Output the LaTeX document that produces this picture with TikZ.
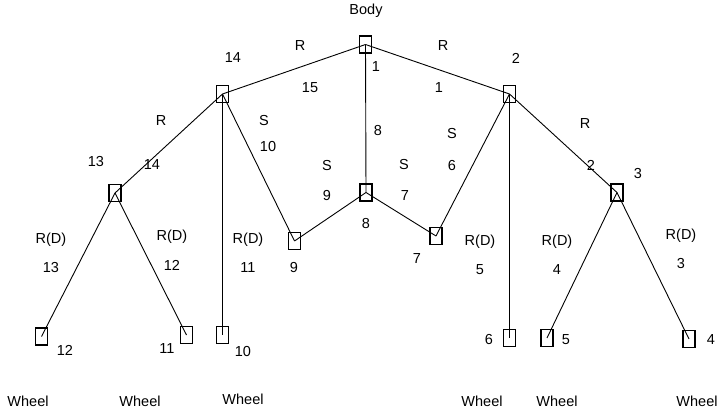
\documentclass[tikz,border=0pt]{standalone}
\usepackage{fontspec}
\setmainfont{Liberation Sans}
\begin{document}
\begin{tikzpicture}[x=1pt,y=-1pt,
  jbox/.style={draw=black,line width=1.4pt,minimum width=12pt,minimum height=17pt,inner sep=0pt},
  link/.style={line width=0.9pt},
  lab/.style={font=\fontsize{14.5}{16}\selectfont,inner sep=0pt}]
\useasboundingbox (0,0) rectangle (726,414);
% joints
\coordinate (c1) at (365.5,44.5);
\coordinate (c14) at (222.5,94);
\coordinate (c2) at (509.5,94);
\coordinate (c13) at (115,193);
\coordinate (c3) at (617,192.5);
\coordinate (c8) at (366,192.5);
\coordinate (c9) at (294.5,241);
\coordinate (c7) at (436,236);
\coordinate (c12) at (41.5,336.5);
\coordinate (c11) at (186.5,335);
\coordinate (c10) at (222.5,335);
\coordinate (c6) at (509.5,338);
\coordinate (c5) at (547,338);
\coordinate (c4) at (689,339);
% connectors
\foreach \a/\b in {1/14,1/2,1/8,14/13,14/10,14/9,8/9,8/7,2/7,2/6,2/3,13/12,13/11,3/5,3/4}
  \draw[link] (c\a) -- (c\b);
% boxes
\foreach \n in {1,14,2,13,3,8,9,7,12,11,10,6,5,4}
  \node[jbox] (b\n) at (c\n) {};
% labels
\node[lab] (tbody) at (366,11) {Body};
\node[lab] at (376,67) {1};
\node[lab] at (233,58) {14};
\node[lab] at (300,46) {R};
\node[lab] at (443,46) {R};
\node[lab] at (516,58) {2};
\node[lab] at (310,88) {15};
\node[lab] at (439,88) {1};
\node[lab] at (161,121) {R};
\node[lab] at (264,121) {S};
\node[lab] at (268,147) {10};
\node[lab] at (378,131) {8};
\node[lab] at (452,134) {S};
\node[lab] at (452,166) {6};
\node[lab] at (585,124) {R};
\node[lab] at (591,165) {2};
\node[lab] at (96,162) {13};
\node[lab] at (152,165) {14};
\node[lab] at (327,166) {S};
\node[lab] at (404,165) {S};
\node[lab] at (327,196) {9};
\node[lab] at (405,196) {7};
\node[lab] at (638,174) {3};
\node[lab] at (366,224) {8};
\node[lab] at (51,240) {R(D)};
\node[lab] at (51,268) {13};
\node[lab] at (172,237) {R(D)};
\node[lab] at (172,265) {12};
\node[lab] at (248,240) {R(D)};
\node[lab] at (248,268) {11};
\node[lab] at (294,268) {9};
\node[lab] at (417,259) {7};
\node[lab] at (480,242) {R(D)};
\node[lab] at (480,270) {5};
\node[lab] at (557,242) {R(D)};
\node[lab] at (557,270) {4};
\node[lab] at (681,236) {R(D)};
\node[lab] at (681,264) {3};
\node[lab] at (65,350) {12};
\node[lab] at (167,349) {11};
\node[lab] at (243,352) {10};
\node[lab] at (489,340) {6};
\node[lab] at (566,340) {5};
\node[lab] at (711,340) {4};
\foreach \x/\y in {28/401,140/401,243/399,482/401,557/401,697/401}
  \node[lab] at (\x,\y) {Wheel};
\end{tikzpicture}
\end{document}
